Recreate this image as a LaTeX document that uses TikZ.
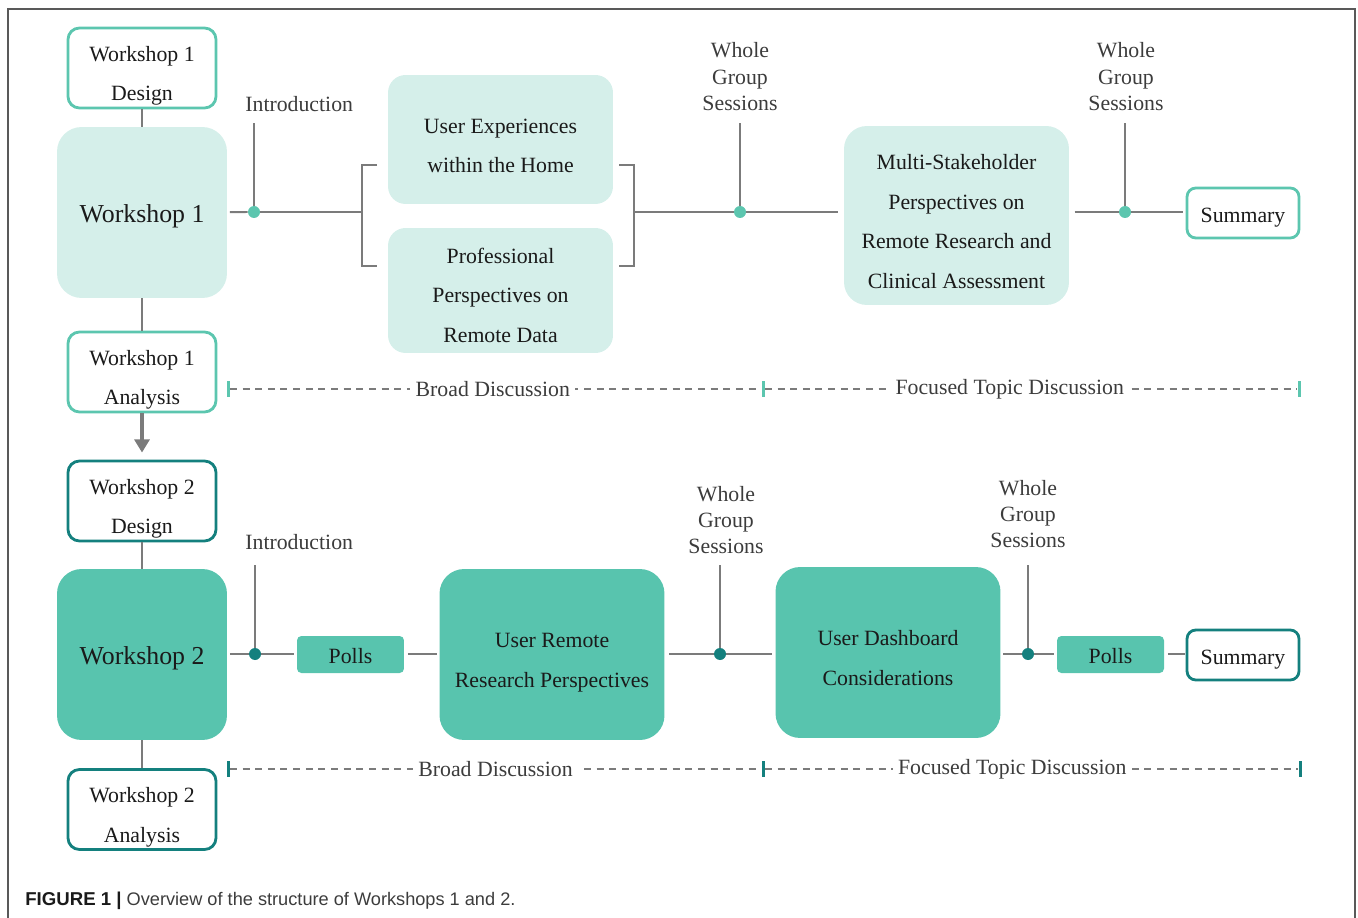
\documentclass[tikz,border=0pt]{standalone}
\usepackage{fontspec}
\setmainfont{Liberation Serif}
\setsansfont{Liberation Sans}
\usetikzlibrary{arrows.meta, positioning}

\definecolor{tealpale}{HTML}{D5EFEA}
\definecolor{tealmid}{HTML}{58C4AE}
\definecolor{tealline}{HTML}{5CC6AF}
\definecolor{tealdark}{HTML}{14807E}
\definecolor{linegray}{HTML}{7B7B7B}
\definecolor{textgray}{HTML}{3C3C3C}
\definecolor{inkblack}{HTML}{1A1A1A}

\tikzset{
  % pushes the text of a node down (strut taller than the text block)
  sink/.style={execute at begin node={\rule{0pt}{#1}}},
  stage/.style={rectangle, rounded corners=6.5pt, draw=#1, line width=1.6pt, fill=white,
                minimum width=2.96cm, minimum height=1.6cm, align=center, inner sep=0pt,
                text=inkblack, font=\fontsize{12.4}{22.5}\selectfont, sink=40.1pt},
  workshop/.style={rectangle, rounded corners=14pt, fill=#1, minimum width=3.4cm,
                   minimum height=3.42cm, text=inkblack, font=\fontsize{14.7}{17}\selectfont,
                   sink=14.6pt},
  topic/.style={rectangle, rounded corners=10pt, fill=#1, minimum width=4.5cm, align=center,
                inner sep=0pt, text=inkblack, font=\fontsize{12.4}{22.5}\selectfont},
  poll/.style={rectangle, rounded corners=2.5pt, fill=tealmid, minimum width=2.14cm,
               minimum height=0.74cm, text=inkblack, font=\fontsize{12.4}{15}\selectfont,
               sink=10.8pt},
  summary/.style={rectangle, rounded corners=5pt, draw=#1, line width=1.6pt, fill=white,
                  minimum width=2.24cm, minimum height=1cm, text=inkblack,
                  font=\fontsize{12.4}{15}\selectfont, sink=13.1pt},
  joint/.style={circle, fill=#1, minimum size=0.24cm, inner sep=0pt},
  cue/.style={align=center, inner sep=0pt, text=textgray, font=\fontsize{12.4}{15}\selectfont},
  bar/.style={rectangle, fill=#1, minimum width=0.06cm, minimum height=0.32cm, inner sep=0pt},
  link/.style={draw=linegray, line width=1.1pt},
  stem/.style={draw=linegray, line width=1.7pt},
  flow/.style={-{Triangle[length=7.5pt, width=8.5pt]}, draw=linegray, fill=linegray, line width=2.5pt},
  phase/.style={draw=linegray, line width=1.1pt, dash pattern=on 4pt off 3.2pt},
  phaselabel/.style={fill=white, inner xsep=3pt, inner ysep=1pt, text=textgray,
                     font=\fontsize{12.4}{15}\selectfont},
}

\begin{document}
\begin{tikzpicture}[x=0.02cm, y=-0.02cm]
  \useasboundingbox (0,0) rectangle (1358,918);

  % outer frame
  \draw[draw=black!65, line width=1.1pt] (8,918) |- (1355,9) -- (1355,918);

  % Workshop 1 column
  \node[stage=tealline] (d1) at (142,68) {Workshop 1\\Design};
  \node[workshop=tealpale] (w1) at (142,212.5) {Workshop 1};
  \node[stage=tealline] (a1) at (142,372) {Workshop 1\\Analysis};

  % Workshop 2 column
  \node[stage=tealdark] (d2) at (142,501) {Workshop 2\\Design};
  \node[workshop=tealmid] (w2) at (142,654.5) {Workshop 2};
  \node[stage=tealdark] (a2) at (142,809.5) {Workshop 2\\Analysis};

  \draw[stem] (d1) -- (w1);
  \draw[stem] (w1) -- (a1);
  \draw[flow, shorten >=4pt] (a1) -- (d2);
  \draw[stem] (d2) -- (w2);
  \draw[stem] (w2) -- (a2);

  % Workshop 1 sessions
  \node[joint=tealline] (j1) at (254,212) {};
  \coordinate (brk1) at (362,212);
  \node[topic=tealpale, minimum height=2.58cm, sink=37.8pt] (home) at (500.5,139.5)
       {User Experiences\\within the Home};
  \node[topic=tealpale, minimum height=2.5cm, sink=59.2pt] (prof) at (500.5,290.5)
       {Professional\\Perspectives on\\Remote Data};
  \coordinate (brk2) at (634,212);
  \node[joint=tealline] (j2) at (740,212) {};
  \node[topic=tealpale, minimum height=3.58cm, rounded corners=13pt, sink=82.8pt] (multi) at (956.5,215.5)
       {Multi-Stakeholder\\Perspectives on\\Remote Research and\\Clinical Assessment};
  \node[joint=tealline] (j3) at (1125,212) {};
  \node[summary=tealline] (sum1) at (1243,213) {Summary};

  % labels over the joints
  \coordinate (intro1) at (254,123);
  \coordinate (wg1) at (740,123);
  \coordinate (wg2) at (1125,123);
  \node[cue, above right=0.22cm and -0.18cm of intro1] (introtxt1) {Introduction};
  \node[cue, above=0.24cm of wg1] (wgtxt1) {Whole\\Group\\Sessions};
  \node[cue, above=0.24cm of wg2, xshift=0.02cm] (wgtxt2) {Whole\\Group\\Sessions};

  \draw[link, shorten <=1.5pt] (w1) -- (j1);
  \draw[link] (j1) -- (brk1);
  \draw[link] (j1) -- (intro1);
  \draw[link] (brk1) ++(15,-47) -- ++(-15,0) -- ++(0,101) -- ++(15,0);
  \draw[link] (brk2) ++(-15,-47) -- ++(15,0) -- ++(0,101) -- ++(-15,0);
  \draw[link] (brk2) -- (j2);
  \draw[link, shorten >=3pt] (j2) -- (multi.west |- j2);
  \draw[link] (j2) -- (wg1);
  \draw[link, shorten <=3pt] (multi.east |- j3) -- (j3);
  \draw[link, shorten >=1.5pt] (j3) -- (sum1.west |- j3);
  \draw[link] (j3) -- (wg2);

  % Workshop 1 phases
  \node[bar=tealline] (b1) at (228,389) {};
  \node[bar=tealline] (b2) at (763,389) {};
  \node[bar=tealline] (b3) at (1299,389) {};
  \draw[phase] (b1) -- node[phaselabel, pos=0.495] {Broad Discussion} (b2);
  \draw[phase] (b2) -- node[phaselabel, pos=0.46] {Focused Topic Discussion} (b3);

  % Workshop 2 sessions
  \node[joint=tealdark] (j4) at (255,654) {};
  \node[poll] (poll1) at (350.5,654.5) {Polls};
  \node[topic=tealmid, minimum height=3.42cm, rounded corners=14pt, sink=40.1pt] (remote) at (552,654.5)
       {User Remote\\Research Perspectives};
  \node[joint=tealdark] (j5) at (720,654) {};
  \node[topic=tealmid, minimum height=3.42cm, rounded corners=14pt, sink=37.3pt] (board) at (888,652.5)
       {User Dashboard\\Considerations};
  \node[joint=tealdark] (j6) at (1028,654) {};
  \node[poll] (poll2) at (1110.5,654.5) {Polls};
  \node[summary=tealdark] (sum2) at (1243,655) {Summary};

  \coordinate (intro2) at (255,565);
  \coordinate (wg3) at (720,565);
  \coordinate (wg4) at (1028,565);
  \node[cue, above right=0.30cm and -0.2cm of intro2] (introtxt2) {Introduction};
  \node[cue, above=0.21cm of wg3, xshift=0.12cm] (wgtxt3) {Whole\\Group\\Sessions};
  \node[cue, above=0.33cm of wg4] (wgtxt4) {Whole\\Group\\Sessions};

  \draw[link, shorten <=1.5pt] (w2.east |- j4) -- (j4);
  \draw[link, shorten >=1.5pt] (j4) -- (poll1.west |- j4);
  \draw[link] (j4) -- (intro2);
  \draw[link, shorten <=2pt, shorten >=1.5pt] (poll1.east |- j4) -- (remote.west |- j4);
  \draw[link, shorten <=2.5pt] (remote.east |- j5) -- (j5);
  \draw[link, shorten >=2pt] (j5) -- (board.west |- j5);
  \draw[link] (j5) -- (wg3);
  \draw[link, shorten <=1.5pt] (board.east |- j6) -- (j6);
  \draw[link, shorten >=1.5pt] (j6) -- (poll2.west |- j6);
  \draw[link] (j6) -- (wg4);
  \draw[link, shorten <=2pt, shorten >=0.5pt] (poll2.east |- j6) -- (sum2.west |- j6);

  % Workshop 2 phases
  \node[bar=tealdark] (b4) at (228,769) {};
  \node[bar=tealdark] (b5) at (763,769) {};
  \node[bar=tealdark] (b6) at (1300,769) {};
  \draw[phase] (b4) -- node[phaselabel, pos=0.5] {Broad Discussion} (b5);
  \draw[phase] (b5) -- node[phaselabel, pos=0.464] {Focused Topic Discussion} (b6);

  % caption
  \node[anchor=base west, inner sep=0pt, text=textgray, font=\sffamily\fontsize{10.35}{12}\selectfont]
       (caption) at (25,905) {{\fontsize{10.6}{12}\selectfont\bfseries\color{inkblack}FIGURE 1 |}
       Overview of the structure of Workshops 1 and 2.};
\end{tikzpicture}
\end{document}
